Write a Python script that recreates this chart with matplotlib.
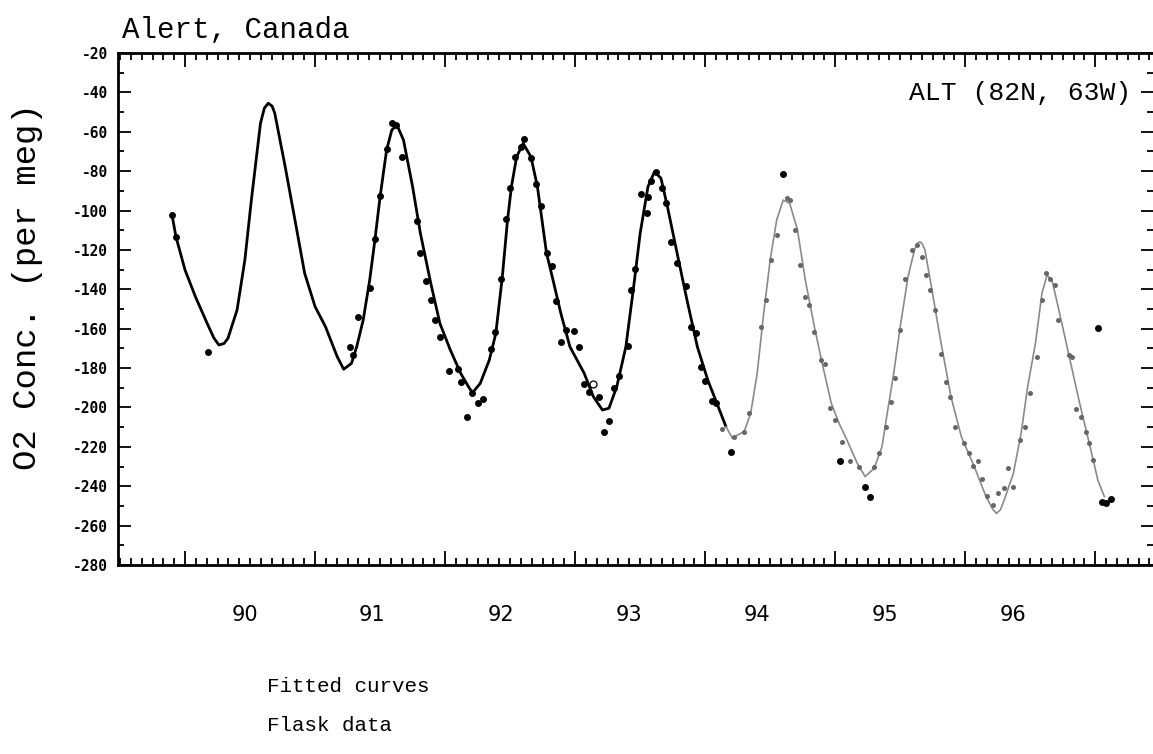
import numpy as np
import matplotlib
matplotlib.use('Agg')
import matplotlib.pyplot as plt
from matplotlib.ticker import MultipleLocator
import matplotlib.transforms as mtransforms

# fitted curve, early part (drawn heavy black)
fit_black_x = [89.90, 89.93, 90.00, 90.08, 90.17, 90.22, 90.26, 90.30, 90.33, 90.40, 90.46, 90.51,
               90.58, 90.61, 90.64, 90.67, 90.69, 90.77, 90.85, 90.92, 91.00, 91.08, 91.17, 91.22,
               91.28, 91.32, 91.37, 91.42, 91.46, 91.50, 91.55, 91.59, 91.63, 91.68,
               91.75, 91.81, 91.89, 91.96, 92.04, 92.12, 92.18, 92.21, 92.27, 92.34,
               92.39, 92.44, 92.48, 92.51, 92.55, 92.60, 92.66, 92.71, 92.78, 92.83,
               92.89, 92.96, 93.07, 93.14, 93.21, 93.26, 93.32, 93.39, 93.45, 93.50,
               93.56, 93.61, 93.66, 93.71, 93.79, 93.86, 93.94, 94.02, 94.09, 94.16]
fit_black_y = [-102.3, -113.3, -130.2, -143.8, -157.3, -164.5, -168.3, -167.5, -164.9, -150.5, -125.1, -94.7,
               -55.7, -48.0, -45.5, -47.0, -50.6, -77.7, -106.5, -131.9, -148.8, -159.0, -174.2, -180.6,
               -177.6, -169.2, -155.6, -135.3, -115.0, -93.0, -69.3, -59.1, -56.6, -64.2,
               -87.9, -111.6, -137.0, -157.3, -170.8, -182.7, -189.5, -192.5, -187.8, -175.9,
               -162.4, -133.6, -104.8, -87.9, -72.7, -65.9, -72.7, -87.9, -121.7, -135.3,
               -152.2, -169.2, -182.7, -194.5, -201.3, -200.4, -189.5, -169.2, -138.7, -111.6,
               -87.9, -80.3, -83.6, -98.1, -123.5, -145.4, -169.2, -186.1, -197.9, -209.8]

# fitted curve, later part (thin grey)
fit_grey_x = [94.16, 94.21, 94.25, 94.30, 94.35, 94.40, 94.45, 94.50, 94.55, 94.60,
              94.65, 94.71, 94.77, 94.84, 94.90, 94.97, 95.03, 95.09, 95.17, 95.23,
              95.30, 95.36, 95.40, 95.45, 95.50, 95.56, 95.61, 95.63, 95.65, 95.67, 95.69, 95.74,
              95.81, 95.89, 95.97, 96.07, 96.16, 96.21, 96.24, 96.27, 96.30, 96.37, 96.43, 96.48,
              96.54, 96.59, 96.63, 96.67, 96.72, 96.80, 96.88, 96.96, 97.02, 97.07]
fit_grey_y = [-209.8, -215.7, -214.0, -212.3, -203.0, -182.7, -152.2, -125.1, -104.8, -94.7,
              -96.3, -109.9, -135.3, -159.0, -177.6, -197.9, -208.1, -216.5, -228.4, -235.1,
              -230.9, -219.9, -203.0, -182.7, -159.0, -133.6, -120.0, -116.8, -115.8, -117.0, -120.0, -138.7,
              -165.8, -194.5, -214.8, -230.1, -245.3, -251.5, -253.8, -252.0, -247.0, -233.5, -213.1, -189.5,
              -167.4, -142.0, -132.7, -136.1, -150.5, -174.2, -197.9, -219.9, -236.9, -245.3]

# flask samples, black dots
flask_black_x = [89.90, 89.93, 90.18, 91.27, 91.29, 91.33, 91.42, 91.46, 91.50, 91.55,
                 91.59, 91.62, 91.67, 91.78, 91.81, 91.85, 91.89, 91.92, 91.96, 92.03,
                 92.10, 92.12, 92.17, 92.21, 92.25, 92.29, 92.35, 92.38, 92.43, 92.47,
                 92.50, 92.54, 92.58, 92.61, 92.66, 92.70, 92.74, 92.78, 92.82, 92.85,
                 92.89, 92.93, 92.99, 93.03, 93.07, 93.11, 93.18, 93.22, 93.26, 93.30,
                 93.34, 93.41, 93.43, 93.46, 93.51, 93.55, 93.56, 93.58, 93.62, 93.67,
                 93.70, 93.74, 93.78, 93.85, 93.89, 93.93, 93.97, 94.00, 94.05, 94.08,
                 94.20, 94.60, 95.04, 95.23, 95.27, 97.02, 97.05, 97.08, 97.12]
flask_black_y = [-102.3, -113.3, -171.7, -169.2, -173.4, -154.2, -139.5, -114.6, -92.6, -68.9,
                 -55.4, -56.6, -73.0, -105.2, -121.7, -135.6, -145.4, -155.6, -164.4, -181.5,
                 -180.6, -187.1, -205.0, -192.5, -197.8, -195.9, -170.5, -161.7, -134.8, -104.5,
                 -88.7, -72.7, -67.6, -63.7, -73.5, -86.7, -97.7, -121.7, -128.2, -145.8,
                 -166.6, -160.7, -161.0, -169.2, -188.1, -192.0, -194.5, -212.6, -206.7, -190.3,
                 -184.0, -168.7, -140.4, -129.9, -91.6, -101.1, -93.0, -84.9, -80.3, -88.7,
                 -96.0, -115.8, -126.8, -138.2, -159.0, -162.4, -179.6, -186.4, -196.6, -197.6,
                 -222.5, -81.5, -227.1, -240.2, -245.3, -159.8, -247.8, -248.3, -246.6]

# one open circle
flask_open_x = [93.14]
flask_open_y = [-188.1]

# flask samples, grey dots
flask_grey_x = [94.13, 94.22, 94.30, 94.34, 94.43, 94.47, 94.51, 94.55, 94.63, 94.65,
                94.69, 94.73, 94.77, 94.80, 94.84, 94.89, 94.92, 94.96, 95.00, 95.05,
                95.11, 95.18, 95.30, 95.34, 95.39, 95.43, 95.46, 95.50, 95.54, 95.59,
                95.63, 95.67, 95.70, 95.73, 95.77, 95.81, 95.85, 95.88, 95.92, 95.99,
                96.03, 96.06, 96.10, 96.13, 96.17, 96.21, 96.25, 96.30, 96.33, 96.37,
                96.42, 96.46, 96.50, 96.55, 96.59, 96.62, 96.65, 96.69, 96.71, 96.80,
                96.82, 96.85, 96.89, 96.93, 96.95, 96.98]
flask_grey_y = [-211.1, -214.8, -212.3, -203.0, -159.0, -145.4, -125.1, -112.4, -93.8, -94.4,
                -109.9, -127.7, -143.8, -148.0, -161.5, -175.9, -177.9, -200.1, -206.4, -217.4,
                -227.1, -230.4, -230.4, -223.0, -210.1, -197.1, -184.9, -160.7, -134.9, -120.0,
                -117.5, -123.8, -132.7, -140.4, -150.5, -172.9, -186.9, -194.9, -209.8, -217.9,
                -223.0, -229.8, -227.2, -236.5, -245.0, -249.6, -243.6, -241.1, -230.9, -240.5,
                -216.5, -209.8, -192.8, -174.2, -145.4, -131.9, -135.0, -137.8, -155.6, -173.5,
                -174.2, -201.0, -204.7, -212.3, -218.2, -226.7]

year_labels = ['90', '91', '92', '93', '94', '95', '96']
year_label_pos = [90.46, 91.44, 92.43, 93.41, 94.40, 95.38, 96.37]
ytick_vals = list(range(-280, -19, 20))


def make_plot(fig_fname):
    fig = plt.figure(figsize=(11.53, 7.54), dpi=100)
    ax = fig.add_axes([0.1023, 0.2507, 0.8977, 0.679])

    ax.plot(fit_black_x, fit_black_y, '-', color='black', linewidth=2.0,
            solid_joinstyle='round', solid_capstyle='round')
    ax.plot(fit_grey_x, fit_grey_y, '-', color='#8a8a8a', linewidth=1.2,
            solid_joinstyle='round')
    ax.plot(flask_grey_x, flask_grey_y, 'o', color='#666666', markersize=3.6,
            markeredgewidth=0)
    ax.plot(flask_black_x, flask_black_y, 'o', color='black', markersize=5,
            markeredgewidth=0)
    ax.plot(flask_open_x, flask_open_y, 'o', markerfacecolor='white',
            markeredgecolor='black', markersize=5, markeredgewidth=0.9)

    ax.set_xlim(89.484, 97.444)
    ax.set_ylim(-280, -20)

    ax.xaxis.set_major_locator(MultipleLocator(1))
    ax.xaxis.set_minor_locator(MultipleLocator(1 / 12.))
    ax.set_yticks(ytick_vals)
    ax.yaxis.set_minor_locator(MultipleLocator(10))
    ax.set_yticklabels(['%d' % v for v in ytick_vals],
                       family='DejaVu Sans Mono', weight='bold', fontsize=10.5)
    ax.set_xticklabels([])

    ax.tick_params(which='both', direction='in', top=True, right=True,
                   width=1.3, color='black')
    ax.tick_params(axis='x', which='major', length=10)
    ax.tick_params(axis='x', which='minor', length=5)
    ax.tick_params(axis='y', which='major', length=9, pad=7)
    ax.tick_params(axis='y', which='minor', length=4)
    for sp in ax.spines.values():
        sp.set_linewidth(2.0)
    # the scan shows only the tick marks on the right edge, no frame line
    ax.spines['right'].set_visible(False)

    trans = mtransforms.blended_transform_factory(ax.transData, ax.transAxes)
    for lab, xp in zip(year_labels, year_label_pos):
        ax.text(xp, -0.098, lab, transform=trans, ha='center', va='center',
                fontsize=15, family='DejaVu Sans')

    ax.text(0.979, 0.922, 'ALT (82N, 63W)', transform=ax.transAxes,
            ha='right', va='center', fontsize=19, family='Liberation Mono')

    fig.text(0.1058, 0.9496, 'Alert, Canada', ha='left', va='baseline',
             fontsize=21, family='Liberation Mono')
    fig.text(0.024, 0.620, 'O2 Conc. (per meg)', rotation=90, ha='center',
             va='center', fontsize=24.5, family='Liberation Mono')

    fig.text(0.232, 0.090, 'Fitted curves', ha='left', va='center',
             fontsize=15, family='Liberation Mono')
    fig.text(0.232, 0.038, 'Flask data', ha='left', va='center',
             fontsize=15, family='Liberation Mono')

    fig.savefig(fig_fname, dpi=100)


if __name__ == '__main__':
    make_plot('out.png')
